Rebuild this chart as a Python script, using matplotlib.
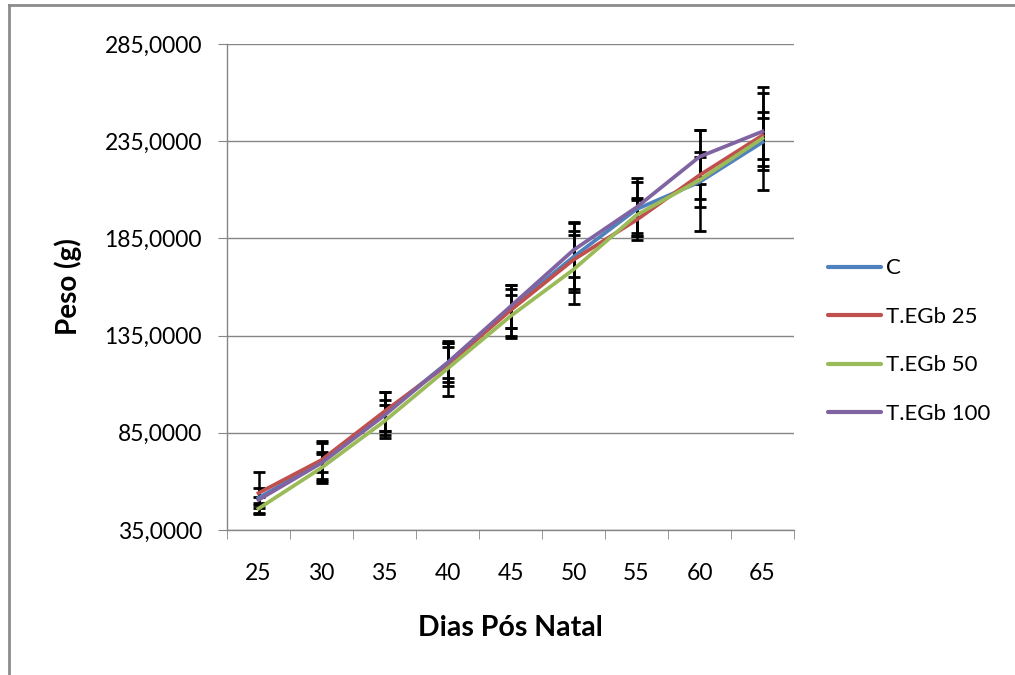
import matplotlib
matplotlib.use('Agg')
import matplotlib.pyplot as plt
from matplotlib.lines import Line2D

# Data
dias = ['25', '30', '35', '40', '45', '50', '55', '60', '65']
series_names = ['C', 'T.EGb 25', 'T.EGb 50', 'T.EGb 100']
peso_c = [51.5, 70, 95, 121, 149, 175.5, 200, 214, 234.5]
peso_25 = [54, 71, 96, 120, 148, 174, 194.5, 217.5, 238]
peso_50 = [46, 67, 91, 118, 145, 169, 197, 215, 236.5]
peso_100 = [50.5, 69.5, 94, 121, 150, 179, 201, 227, 240]
err_c = [5, 10, 11, 10, 10, 18, 14, 13, 12.5]
err_25 = [11, 10, 10, 11, 13, 15, 10.5, 12, 12]
err_50 = [2, 8, 8.5, 14, 11, 18, 9, 26, 26.5]
err_100 = [1.5, 4.5, 8, 8, 11, 14, 15, 14, 20]
y_ticks = [35, 85, 135, 185, 235, 285]

colors = ['#4F81BD', '#C0504D', '#9BBB59', '#8064A2']
plt.rcParams['font.family'] = ['Lato', 'DejaVu Sans']

fig = plt.figure(figsize=(10.15, 6.75), dpi=100)
ax = fig.add_axes([227 / 1015, 1 - 530 / 675, (794 - 227) / 1015, (530 - 44) / 675])

# chart frame (left and top edges visible)
fx = 8.5 / 1015
fy = 1 - 4.5 / 675
fig.add_artist(Line2D([fx, fx], [0, fy], transform=fig.transFigure,
                      color='#8c8c8c', linewidth=2))
fig.add_artist(Line2D([fx, 1], [fy, fy], transform=fig.transFigure,
                      color='#8c8c8c', linewidth=2))

x = list(range(len(dias)))
all_y = [peso_c, peso_25, peso_50, peso_100]
all_err = [err_c, err_25, err_50, err_100]
handles = []
for name, yv, ev, col in zip(series_names, all_y, all_err, colors):
    ax.errorbar(x, yv, yerr=ev, color=col, linewidth=2.7, ecolor='black',
                elinewidth=1.8, capsize=4.5, capthick=2, zorder=3)
    handles.append(Line2D([], [], color=col, linewidth=3, solid_capstyle='round'))

ax.set_xlim(-0.5, len(dias) - 0.5)
ax.set_ylim(35, 285)
ax.set_yticks(y_ticks)
ax.set_yticklabels([f'{v},0000' for v in y_ticks])
ax.set_xticks(x)
ax.set_xticklabels(dias)
ax.set_xticks([i - 0.5 for i in range(len(dias) + 1)], minor=True)

ax.grid(True, axis='y', color='#868686', linewidth=1)
ax.set_axisbelow(True)
for s in ['top', 'right']:
    ax.spines[s].set_visible(False)
for s in ['left', 'bottom']:
    ax.spines[s].set_color('#868686')
    ax.spines[s].set_linewidth(1)

ax.tick_params(axis='y', which='major', length=6.5, color='#868686',
               labelsize=16.5, pad=11.5)
ax.tick_params(axis='x', which='major', length=0, labelsize=16.5, pad=24)
ax.tick_params(axis='x', which='minor', length=6.5, color='#868686')

ax.set_ylabel('Peso (g)', fontsize=20, fontweight='bold', labelpad=16)
ax.set_xlabel('Dias Pós Natal', fontsize=20.5, fontweight='bold', labelpad=22)

ax.legend(handles, series_names, loc='upper left', bbox_to_anchor=(1.024, 0.6),
          frameon=False, fontsize=16, handlelength=2.4, handletextpad=0.25,
          labelspacing=1.28)

fig.savefig('out.png', dpi=100)
